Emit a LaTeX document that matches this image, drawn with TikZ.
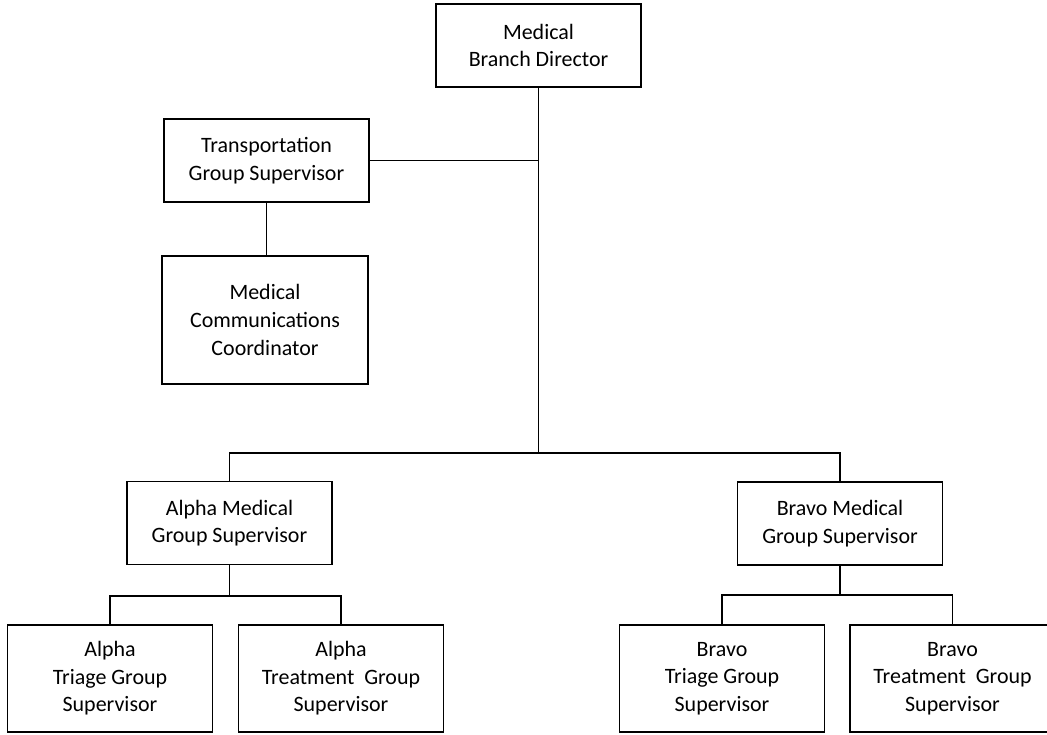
\documentclass[tikz,border=0pt]{standalone}
\usepackage{fontspec}
\setmainfont{Carlito}
\usepackage{tikz}

\begin{document}
\begin{tikzpicture}[x=0.02cm,y=-0.02cm,line width=1.1pt,
  box node/.style={rectangle,draw,align=center,inner sep=0pt,
    minimum width=4.1cm,minimum height=1.66cm,
    font=\fontsize{12.5}{15.7}\selectfont},
  thick box/.style={box node,line width=1.6pt},
  low box/.style={box node,minimum height=2.14cm}]
\useasboundingbox (0,0) rectangle (1047,734);
\fill[white] (0,0) rectangle (1047,734);
\clip (0,0) rectangle (1047,734);
\node[thick box] (dir) at (538.5,45.5) {Medical\\Branch Director};
\node[box node] (trans) at (266.5,160.5) {Transportation\\Group Supervisor};
\node[thick box,minimum width=4.12cm,minimum height=2.56cm] (mcc) at (265,320) {Medical\\Communications\\Coordinator};
\node[box node] (alpha) at (229.5,523) {Alpha Medical\\Group Supervisor};
\node[box node] (bravo) at (840,523.5) {Bravo Medical\\Group Supervisor};
\node[low box] (atri) at (110,678.5) {Alpha\\Triage Group\\Supervisor};
\node[low box] (atrt) at (341,678.5) {Alpha\\Treatment\ \ Group\\Supervisor};
\node[low box] (btri) at (722,678.5) {Bravo\\Triage Group\\Supervisor};
\node[low box] (btrt) at (952.5,678.5) {Bravo\\Treatment\ \ Group\\Supervisor};
\coordinate (hub) at (538.5,453);
\coordinate (asplit) at (229.5,596);
\coordinate (bsplit) at (840,595);
\draw (dir.south) -- (hub);
\draw (trans.east) -- (trans.east -| dir.south);
\draw (trans.south) -- (trans.south |- mcc.north);
\draw (alpha.north) |- (hub) -| (bravo.north);
\draw (alpha.south) -- (asplit);
\draw (atri.north) |- (asplit) -| (atrt.north);
\draw (bravo.south) -- (bsplit);
\draw (btri.north) |- (bsplit) -| (btrt.north);
\end{tikzpicture}
\end{document}
